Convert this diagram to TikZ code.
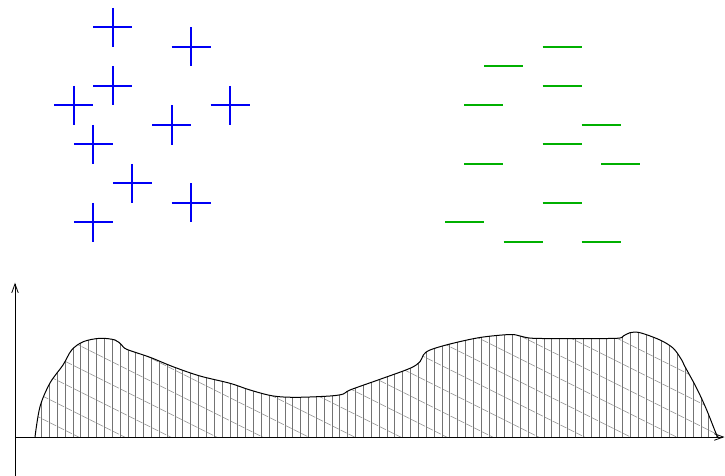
\documentclass[tikz,border=0pt]{standalone}
\usetikzlibrary{arrows.meta}
\definecolor{plusblue}{RGB}{0,0,245}
\definecolor{minusgreen}{RGB}{0,176,0}
\tikzset{
  plusmark/.style={draw=plusblue, line width=2pt},
  minusmark/.style={draw=minusgreen, line width=2pt},
  axisline/.style={draw=black, line width=0.8pt},
  axistip/.style={-{Straight Barb[length=9pt,width=6.5pt]}},
  densitycurve/.style={draw=black, line width=1pt},
  hatchv/.style={draw=black!55, line width=0.7pt},
  hatchd/.style={draw=black!45, line width=0.5pt},
}
\begin{document}
\begin{tikzpicture}[x=1pt,y=-1pt]
\useasboundingbox (0,0) rectangle (725,476);
% plus signs
\foreach \px/\py in {112.7/27.3, 191/46.7, 112.7/86, 73.7/105.3, 230/105.3, 171.7/125, 93.3/144.3, 132.3/183.3, 191/202.7, 93.3/222.3}{
  \draw[plusmark] (\px-19.5,\py) -- (\px+19.5,\py);
  \draw[plusmark] (\px,\py-19.5) -- (\px,\py+19.5);
}
% minus signs
\foreach \mx/\my in {542.7/46.7, 484/66.3, 542.7/85.7, 464.3/105.3, 581.7/125, 542.7/144.3, 464.3/164, 601/164, 542.7/203, 445/222.3, 503.7/242, 581.7/242}{
  \draw[minusmark] (\mx,\my) -- (\mx+39,\my);
}
% density region
\def\curvepath{plot[smooth, tension=0.55] coordinates {(35,437) (40,406.7) (50,383) (63,365) (71.7,350) (83.3,341.7) (100,338.3) (115,340) (121.7,345) (126.7,349.3) (150,357.3) (173,366.7) (200,376) (230,383.3) (250,390) (273.3,396) (296.7,397.3) (330,396) (343.3,394) (350,390) (380,379.3) (410,368.3) (420,361.7) (423.3,355) (430,350) (450,344) (480,337.5) (510,334.5) (520,336) (533.3,338.3) (575,338.5) (616.7,338.3) (623.3,336) (630,332.7) (640,332.7) (660,340) (673.3,348.3) (681.7,360) (685,366.7) (696.7,388.3) (706.7,410) (716.7,435) (719,437)}}
\begin{scope}
  \clip \curvepath -- cycle;
  \foreach \i [evaluate=\i as \xc using {33.65+7.85*\i}, evaluate=\i as \oc using {mod(3.925*\i,23)}] in {-1,...,88}{
    \draw[hatchv] (\xc,300) -- (\xc,437);
    \foreach \k in {0,...,6}{
      \draw[hatchd] (\xc+0.8,300+\oc+23*\k) -- (\xc+6.8,300+\oc+23*\k+3);
    }
  }
\end{scope}
\draw[densitycurve] \curvepath;
% axes
\coordinate (yb) at (15,476);
\coordinate (yt) at (15,282.7);
\coordinate (xl) at (15,437);
\coordinate (xr) at (724.5,437);
\draw[axisline,axistip] (yb) -- (yt);
\draw[axisline,axistip] (xl) -- (xr);
\end{tikzpicture}
\end{document}
